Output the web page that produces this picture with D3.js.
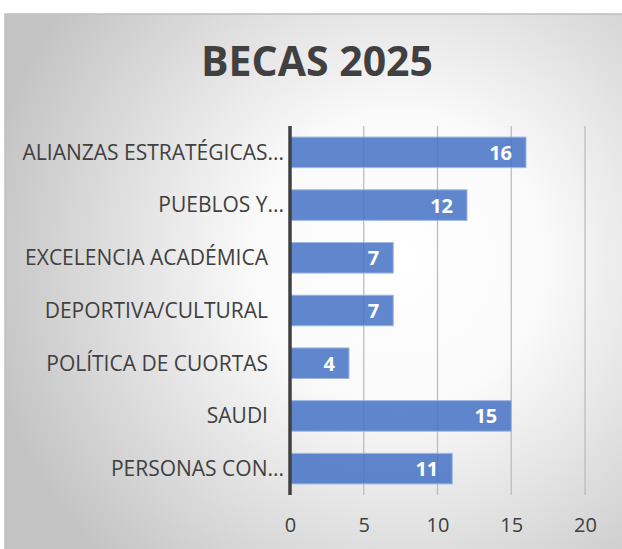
<!DOCTYPE html>
<html>
<head>
<meta charset="utf-8">
<script src="https://cdn.jsdelivr.net/npm/d3@7"></script>
<style>
  body { margin: 0; background: #fff; }
  svg text { font-family: "Open Sans", "Liberation Sans", sans-serif; }
</style>
</head>
<body>
<div id="chart"></div>
<script>
// chart data
var categories = ["ALIANZAS ESTRATÉGICAS...", "PUEBLOS Y...", "EXCELENCIA ACADÉMICA", "DEPORTIVA/CULTURAL", "POLÍTICA DE CUORTAS", "SAUDI", "PERSONAS CON..."];
var values = [16, 12, 7, 7, 4, 15, 11];
var xTicks = [0, 5, 10, 15, 20];
var title = "BECAS 2025";

var width = 622, height = 549;
var svg = d3.select("#chart").append("svg")
    .attr("width", width)
    .attr("height", height);

// background gradient
var defs = svg.append("defs");
var grad = defs.append("radialGradient")
    .attr("id", "bg")
    .attr("gradientUnits", "userSpaceOnUse")
    .attr("cx", 400).attr("cy", 260).attr("r", 420);
grad.append("stop").attr("offset", "0%").attr("stop-color", "#ffffff");
grad.append("stop").attr("offset", "35%").attr("stop-color", "#fafafa");
grad.append("stop").attr("offset", "100%").attr("stop-color", "#c4c4c4");

svg.append("rect")
    .attr("x", 5).attr("y", 14)
    .attr("width", width).attr("height", height)
    .attr("fill", "url(#bg)")
    .attr("stroke", "#bfbfbf")
    .attr("stroke-width", 1.5);

svg.append("text")
    .attr("x", 317).attr("y", 76)
    .attr("text-anchor", "middle")
    .attr("font-size", 41)
    .attr("font-weight", "bold")
    .attr("fill", "#404040")
    .text(title);

var x = d3.scaleLinear().domain([0, 20]).range([290, 585]);
var y = d3.scaleBand().domain(categories).range([126, 495]).paddingInner(0.42).paddingOuter(0.21);

// gridlines
svg.append("g")
    .selectAll("line")
    .data(xTicks.slice(1))
    .enter()
    .append("line")
    .attr("x1", function(d) { return x(d); })
    .attr("x2", function(d) { return x(d); })
    .attr("y1", 126).attr("y2", 495)
    .attr("stroke", "#bdbdbd")
    .attr("stroke-width", 1.3);

// bars
svg.append("g")
    .selectAll("rect")
    .data(values)
    .enter()
    .append("rect")
    .attr("x", x(0))
    .attr("y", function(d, i) { return y(categories[i]); })
    .attr("width", function(d) { return x(d) - x(0); })
    .attr("height", y.bandwidth())
    .attr("fill", "#4472c4")
    .attr("fill-opacity", 0.85)
    .attr("stroke", "#9fb7e3")
    .attr("stroke-width", 1);

// value labels
svg.append("g")
    .selectAll("text")
    .data(values)
    .enter()
    .append("text")
    .attr("x", function(d) { return x(d) - 14; })
    .attr("y", function(d, i) { return y(categories[i]) + y.bandwidth() / 2 + 7.5; })
    .attr("text-anchor", "end")
    .attr("font-size", 20)
    .attr("font-weight", "bold")
    .attr("fill", "#ffffff")
    .text(function(d) { return d; });

// category axis (truncated labels sit closer to the axis)
var yAxis = svg.append("g")
    .attr("transform", "translate(" + x(0) + ",0)")
    .call(d3.axisLeft(y).tickSize(0).tickPadding(6));
yAxis.select(".domain").remove();
yAxis.selectAll("text")
    .attr("font-size", 21)
    .attr("fill", "#404040")
    .attr("dy", "0.35em")
    .attr("dx", function(d) { return d.endsWith("...") ? 0 : -16; });

// zero line
svg.append("line")
    .attr("x1", x(0)).attr("x2", x(0))
    .attr("y1", 126).attr("y2", 495)
    .attr("stroke", "#404040")
    .attr("stroke-width", 3.5);

// value axis
var xAxis = svg.append("g")
    .attr("transform", "translate(0,495)")
    .call(d3.axisBottom(x).tickValues(xTicks).tickSize(0).tickPadding(23));
xAxis.select(".domain").remove();
xAxis.selectAll("text")
    .attr("font-size", 20)
    .attr("fill", "#404040");
</script>
</body>
</html>
